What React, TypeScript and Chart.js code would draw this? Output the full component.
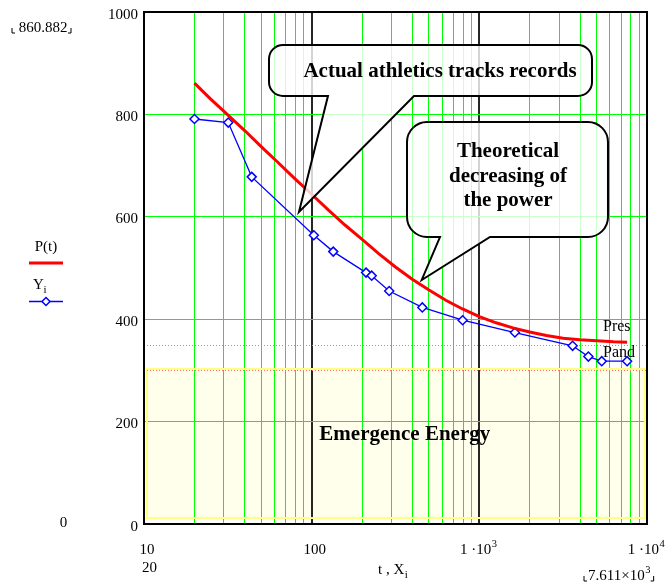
import React, { useEffect, useRef } from "react";
import { Chart, registerables } from "chart.js";
Chart.register(...registerables);

// Theoretical power curve P(t)
const T_CURVE = [20, 25, 31.6, 40, 50, 63, 79, 100, 126, 158, 200, 251, 316, 398, 501, 631, 794, 1000, 1259, 1585, 1995, 2512, 3162, 3981, 5012, 6310, 7611];
const P_CURVE = [861, 830, 799, 768, 737, 706, 675, 644, 613, 584, 556, 528, 502, 478, 457, 437, 420, 405, 393, 383, 375, 368, 363, 360, 358, 356, 355];
const P_MAX_LABEL = "860.882";

// Athletics records (X_i, Y_i)
const X_REC = [20, 31.8, 43.9, 103, 134.5, 211, 228, 290, 457, 795, 1630, 3600, 4470, 5370, 7611];
const Y_REC = [791, 784, 678, 564, 532, 491, 485, 455, 423, 398, 374, 348, 327, 318, 318];
const X_MIN_LABEL = "20";
const X_MAX_LABEL = "7.611\u00d710";
const X_MAX_LABEL_EXP = "3";

// Axes
const X_MIN = 10;
const X_MAX = 10000;
const Y_MIN = 0;
const Y_MAX = 1000;
const X_DECADES = [10, 100, 1000];
const X_MULTIPLIERS = [1, 2, 3, 4, 5, 6, 7, 8, 9];
const Y_TICKS = [0, 200, 400, 600, 800, 1000];
const X_LABEL_VALUES = [10, 100, 1000, 10000];
const X_LABEL_BASES = ["10", "100", "1 \u00b710", "1 \u00b710"];
const X_LABEL_EXPS = ["", "", "3", "4"];

// Reference levels
const PRES = 350;
const PAND = 300;

// Emergence energy band (data coords)
const BAND_T = [10.42, 9727];
const BAND_V = [11.7, 302.7];

// Callouts (data coords)
const CALL1_T = [55.66, 4699];
const CALL1_V = [836, 935.5];
const CALL1_BASE_T = [125.1, 407.6];
const CALL1_TIP = [84.0, 609.4];
const CALL1_TEXT = ["Actual athletics tracks records"];
const CALL1_TEXT_T = 582.6;
const CALL1_TEXT_V = [872.5];

const CALL2_T = [370.4, 5852];
const CALL2_V = [560.5, 785.2];
const CALL2_BASE_T = [582.6, 1158];
const CALL2_TIP = [453.3, 476.6];
const CALL2_TEXT = ["Theoretical", "decreasing of", "the power"];
const CALL2_TEXT_T = 1483;
const CALL2_TEXT_V = [717.4, 668.6, 621.7];

const EMERGENCE_TEXT = "Emergence Energy";
const EMERGENCE_T = 359.3;
const EMERGENCE_V = 163.9;

const PRES_LABEL_T = 5465;
const PRES_LABEL_V = 377.5;
const PAND_LABEL_V = 326.8;

const SERIF = '"Liberation Serif", "Times New Roman", serif';
const font = (size: number, bold = false) => `${bold ? "bold " : ""}${size}px ${SERIF}`;

function bubble(ctx: CanvasRenderingContext2D, L: number, T: number, R: number, B: number, rad: number, baseA: number, baseB: number, tipX: number, tipY: number) {
  ctx.beginPath();
  ctx.moveTo(L + rad, T);
  ctx.lineTo(R - rad, T);
  ctx.arcTo(R, T, R, T + rad, rad);
  ctx.lineTo(R, B - rad);
  ctx.arcTo(R, B, R - rad, B, rad);
  ctx.lineTo(baseB, B);
  ctx.lineTo(tipX, tipY);
  ctx.lineTo(baseA, B);
  ctx.lineTo(L + rad, B);
  ctx.arcTo(L, B, L, B - rad, rad);
  ctx.lineTo(L, T + rad);
  ctx.arcTo(L, T, L + rad, T, rad);
  ctx.closePath();
  ctx.fillStyle = "rgba(255,255,255,0.8)";
  ctx.fill();
  ctx.lineWidth = 2;
  ctx.lineJoin = "miter";
  ctx.strokeStyle = "#000";
  ctx.stroke();
}

function supText(ctx: CanvasRenderingContext2D, base: string, sup: string, cx: number, baseline: number, size: number) {
  ctx.font = font(size);
  const wb = ctx.measureText(base).width;
  ctx.font = font(size * 0.7);
  const ws = sup ? ctx.measureText(sup).width : 0;
  const x0 = cx - (wb + ws) / 2;
  ctx.textAlign = "left";
  ctx.font = font(size);
  ctx.fillText(base, x0, baseline);
  if (sup) {
    ctx.font = font(size * 0.7);
    ctx.fillText(sup, x0 + wb + 0.5, baseline - size * 0.42);
  }
}

function corner(ctx: CanvasRenderingContext2D, x: number, y: number, dir: number) {
  ctx.beginPath();
  ctx.moveTo(x, y - 5);
  ctx.lineTo(x, y);
  ctx.lineTo(x + dir * 3, y);
  ctx.lineWidth = 1;
  ctx.strokeStyle = "#000";
  ctx.stroke();
}

function xGridValues(): number[] {
  const out: number[] = [];
  for (const d of X_DECADES) for (const m of X_MULTIPLIERS) out.push(d * m);
  out.push(X_MAX);
  return out;
}

const decor = {
  id: "decor",
  beforeDraw(chart: any) {
    const { ctx, scales } = chart;
    const x = scales.x, y = scales.y;
    const l = x.getPixelForValue(BAND_T[0]);
    const r = x.getPixelForValue(BAND_T[1]);
    const t = y.getPixelForValue(BAND_V[1]);
    const b = y.getPixelForValue(BAND_V[0]);
    ctx.save();
    ctx.fillStyle = "#ffffec";
    ctx.fillRect(l, t, r - l, b - t);
    ctx.restore();
  },
  beforeDatasetsDraw(chart: any) {
    const { ctx, scales, chartArea } = chart;
    const x = scales.x, y = scales.y;
    const { left, right, top, bottom } = chartArea;
    ctx.save();
    // grid
    for (const v of xGridValues()) {
      if (v === X_MIN || v === X_MAX) continue;
      const major = X_DECADES.includes(v);
      const px = x.getPixelForValue(v);
      const p = major ? Math.round(px) : Math.round(px - 0.5) + 0.5;
      ctx.strokeStyle = major ? "#262626" : "#00ff00";
      ctx.lineWidth = major ? 2 : 1;
      ctx.beginPath();
      ctx.moveTo(p, top);
      ctx.lineTo(p, bottom);
      ctx.stroke();
    }
    for (const v of Y_TICKS) {
      if (v === Y_MIN || v === Y_MAX) continue;
      const p = Math.round(y.getPixelForValue(v) - 0.5) + 0.5;
      ctx.strokeStyle = "#00ff00";
      ctx.lineWidth = 1;
      ctx.beginPath();
      ctx.moveTo(left, p);
      ctx.lineTo(right, p);
      ctx.stroke();
    }
    // band border
    const l = x.getPixelForValue(BAND_T[0]);
    const r = x.getPixelForValue(BAND_T[1]);
    const t = y.getPixelForValue(BAND_V[1]);
    const b = y.getPixelForValue(BAND_V[0]);
    ctx.strokeStyle = "rgb(255,255,130)";
    ctx.lineWidth = 2;
    ctx.strokeRect(l, t, r - l, b - t);
    // reference levels
    ctx.strokeStyle = "rgb(255,110,110)";
    ctx.lineWidth = 1;
    ctx.setLineDash([1, 2]);
    for (const v of [PRES, PAND]) {
      const py = Math.round(y.getPixelForValue(v)) + 0.5;
      ctx.beginPath();
      ctx.moveTo(left, py);
      ctx.lineTo(right, py);
      ctx.stroke();
    }
    ctx.restore();
  },
  afterDatasetsDraw(chart: any) {
    const { ctx, scales, chartArea } = chart;
    const x = scales.x, y = scales.y;
    ctx.save();
    // frame
    ctx.strokeStyle = "#000";
    ctx.lineWidth = 2;
    ctx.strokeRect(chartArea.left, chartArea.top, chartArea.right - chartArea.left, chartArea.bottom - chartArea.top);

    bubble(ctx,
      x.getPixelForValue(CALL1_T[0]), y.getPixelForValue(CALL1_V[1]),
      x.getPixelForValue(CALL1_T[1]), y.getPixelForValue(CALL1_V[0]), 14,
      x.getPixelForValue(CALL1_BASE_T[0]), x.getPixelForValue(CALL1_BASE_T[1]),
      x.getPixelForValue(CALL1_TIP[0]), y.getPixelForValue(CALL1_TIP[1]));
    bubble(ctx,
      x.getPixelForValue(CALL2_T[0]), y.getPixelForValue(CALL2_V[1]),
      x.getPixelForValue(CALL2_T[1]), y.getPixelForValue(CALL2_V[0]), 20,
      x.getPixelForValue(CALL2_BASE_T[0]), x.getPixelForValue(CALL2_BASE_T[1]),
      x.getPixelForValue(CALL2_TIP[0]), y.getPixelForValue(CALL2_TIP[1]));

    ctx.fillStyle = "#000";
    ctx.textAlign = "center";
    ctx.textBaseline = "alphabetic";
    ctx.font = font(21, true);
    CALL1_TEXT.forEach((s, i) => ctx.fillText(s, x.getPixelForValue(CALL1_TEXT_T), y.getPixelForValue(CALL1_TEXT_V[i])));
    CALL2_TEXT.forEach((s, i) => ctx.fillText(s, x.getPixelForValue(CALL2_TEXT_T), y.getPixelForValue(CALL2_TEXT_V[i])));
    ctx.fillText(EMERGENCE_TEXT, x.getPixelForValue(EMERGENCE_T), y.getPixelForValue(EMERGENCE_V));

    ctx.font = font(16);
    ctx.textAlign = "left";
    ctx.fillText("Pres", x.getPixelForValue(PRES_LABEL_T), y.getPixelForValue(PRES_LABEL_V));
    ctx.fillText("Pand", x.getPixelForValue(PRES_LABEL_T), y.getPixelForValue(PAND_LABEL_V));
    ctx.restore();
  },
  afterDraw(chart: any) {
    const { ctx, scales } = chart;
    const x = scales.x, y = scales.y;
    ctx.save();
    ctx.fillStyle = "#000";
    ctx.textBaseline = "alphabetic";
    // y tick labels
    ctx.font = font(15);
    ctx.textAlign = "right";
    for (const v of Y_TICKS) {
      ctx.fillText(String(v), 138, y.getPixelForValue(v) + 6.5);
    }
    // x tick labels
    X_LABEL_VALUES.forEach((v, i) => {
      const sup = X_LABEL_EXPS[i];
      supText(ctx, X_LABEL_BASES[i], sup, x.getPixelForValue(v) + (sup ? -1 : 3), 553.5, 15);
    });
    // x range markers and axis title
    ctx.font = font(15);
    ctx.textAlign = "center";
    ctx.fillText(X_MIN_LABEL, 149.5, 571.5);
    ctx.textAlign = "left";
    ctx.fillText("t , X", 378, 574);
    const wtx = ctx.measureText("t , X").width;
    ctx.font = font(11);
    ctx.fillText("i", 378 + wtx + 0.5, 578);
    ctx.font = font(15);
    const wb = ctx.measureText(X_MAX_LABEL).width;
    const mx0 = 588;
    ctx.fillText(X_MAX_LABEL, mx0, 580);
    ctx.font = font(10.5);
    ctx.fillText(X_MAX_LABEL_EXP, mx0 + wb + 0.5, 573);
    corner(ctx, 584, 581, 1);
    corner(ctx, mx0 + wb + 9, 581, -1);

    // y range markers
    ctx.font = font(15);
    ctx.textAlign = "center";
    ctx.fillText(P_MAX_LABEL, 43, 31.5);
    corner(ctx, 12, 33, 1);
    corner(ctx, 71, 33, -1);
    ctx.fillText(String(Y_MIN), 63.5, 526.5);

    // legend
    ctx.font = font(15);
    ctx.textAlign = "center";
    ctx.fillText("P(t)", 46, 250.5);
    ctx.strokeStyle = "rgb(255,0,0)";
    ctx.lineWidth = 3;
    ctx.beginPath();
    ctx.moveTo(29, 263);
    ctx.lineTo(63, 263);
    ctx.stroke();
    ctx.textAlign = "left";
    ctx.fillText("Y", 33, 288.5);
    ctx.font = font(11);
    ctx.fillText("i", 43.5, 292.5);
    ctx.strokeStyle = "rgb(0,0,255)";
    ctx.lineWidth = 1.3;
    ctx.beginPath();
    ctx.moveTo(29, 301.5);
    ctx.lineTo(63, 301.5);
    ctx.stroke();
    ctx.beginPath();
    ctx.moveTo(46, 297.5);
    ctx.lineTo(50, 301.5);
    ctx.lineTo(46, 305.5);
    ctx.lineTo(42, 301.5);
    ctx.closePath();
    ctx.fillStyle = "#fff";
    ctx.fill();
    ctx.lineWidth = 1.5;
    ctx.stroke();
    ctx.restore();
  },
};

export default function App() {
  const ref = useRef<HTMLCanvasElement | null>(null);
  useEffect(() => {
    if (!ref.current) return;
    const chart = new Chart(ref.current, {
      type: "line",
      data: {
        datasets: [
          {
            label: "P(t)",
            data: T_CURVE.map((t, i) => ({ x: t, y: P_CURVE[i] })),
            borderColor: "rgb(255,0,0)",
            borderWidth: 3,
            pointRadius: 0,
            tension: 0,
            fill: false,
          },
          {
            label: "Yi",
            data: X_REC.map((t, i) => ({ x: t, y: Y_REC[i] })),
            borderColor: "rgb(0,0,255)",
            borderWidth: 1.3,
            pointStyle: "rectRot",
            pointRadius: 4.5,
            pointBorderWidth: 1.5,
            pointBackgroundColor: "#fff",
            pointBorderColor: "rgb(0,0,255)",
            tension: 0,
            fill: false,
          },
        ],
      },
      options: {
        responsive: false,
        animation: false,
        devicePixelRatio: 1,
        layout: { padding: { left: 0, top: 12, right: 18, bottom: 0 } },
        plugins: { legend: { display: false }, tooltip: { enabled: false } },
        scales: {
          x: {
            type: "logarithmic",
            min: X_MIN,
            max: X_MAX,
            afterFit: (s: any) => {
              s.height = 62;
            },
            ticks: { display: false },
            grid: { display: false, drawTicks: false },
            border: { display: true, color: "#000", width: 2 },
          },
          y: {
            type: "linear",
            min: Y_MIN,
            max: Y_MAX,
            afterFit: (s: any) => {
              s.width = 144;
            },
            ticks: { display: false },
            grid: { display: false, drawTicks: false },
            border: { display: true, color: "#000", width: 2 },
          },
        },
      },
      plugins: [decor],
    } as any);
    return () => chart.destroy();
  }, []);
  return (
    <div style={{ position: "absolute", left: 0, top: 0, width: 665, height: 586, background: "#fff" }}>
      <canvas ref={ref} width={665} height={586} />
    </div>
  );
}
